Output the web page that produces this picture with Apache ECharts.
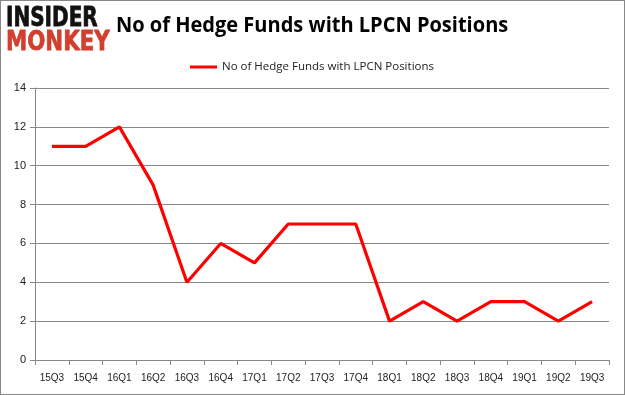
<!DOCTYPE html>
<html><head><meta charset="utf-8">
<script src="https://cdn.jsdelivr.net/npm/echarts@6/dist/echarts.min.js"></script>
<style>html,body{margin:0;padding:0;background:#fff}#c{width:625px;height:395px;box-sizing:border-box;border:1px solid #888}</style>
</head><body><div id="c"></div>
<script>
const categories = ['15Q3','15Q4','16Q1','16Q2','16Q3','16Q4','17Q1','17Q2','17Q3','17Q4','18Q1','18Q2','18Q3','18Q4','19Q1','19Q2','19Q3'];
const seriesName = 'No of Hedge Funds with LPCN Positions';
const values = [11,11,12,9,4,6,5,7,7,7,2,3,2,3,3,2,3];
const chart = echarts.init(document.getElementById('c'));
chart.setOption({
  animation:false,
  graphic:[
    {type:'text',x:5,y:5,scaleX:0.77,style:{text:'INSIDER',font:'bold 26px "DejaVu Sans"',fill:'#111',stroke:'#111',lineWidth:0.8}},
    {type:'text',x:5,y:28,scaleX:0.79,style:{text:'MONKEY',font:'bold 27px "DejaVu Sans"',fill:'#d23f2f',stroke:'#d23f2f',lineWidth:0.8}},
    {type:'text',x:115,y:14,scaleX:0.91,style:{text:'No of Hedge Funds with LPCN Positions',font:'bold 22px "Open Sans"',fill:'#000'}}
  ],
  legend:{top:55,left:184,itemWidth:27,itemHeight:3,itemGap:3,icon:'rect',textStyle:{fontSize:11.5,color:'#222',fontFamily:'"Open Sans"'},data:[seriesName]},
  grid:{left:34,right:15,top:87,bottom:34},
  xAxis:{type:'category',data:categories,boundaryGap:true,
    axisLine:{lineStyle:{color:'#888'}},axisTick:{show:true,alignWithLabel:false,lineStyle:{color:'#888'}},
    axisLabel:{fontSize:10,color:'#222',margin:13,interval:0}},
  yAxis:{type:'value',min:0,max:14,interval:2,
    axisLine:{show:true,lineStyle:{color:'#888'}},axisTick:{show:true,lineStyle:{color:'#888'}},
    splitLine:{lineStyle:{color:'#888'}},axisLabel:{fontSize:11,color:'#222',margin:9}},
  series:[{name:seriesName,type:'line',data:values,symbol:'none',lineStyle:{color:'#ff0000',width:3.2},itemStyle:{color:'#ff0000'}}]
});
</script></body></html>
